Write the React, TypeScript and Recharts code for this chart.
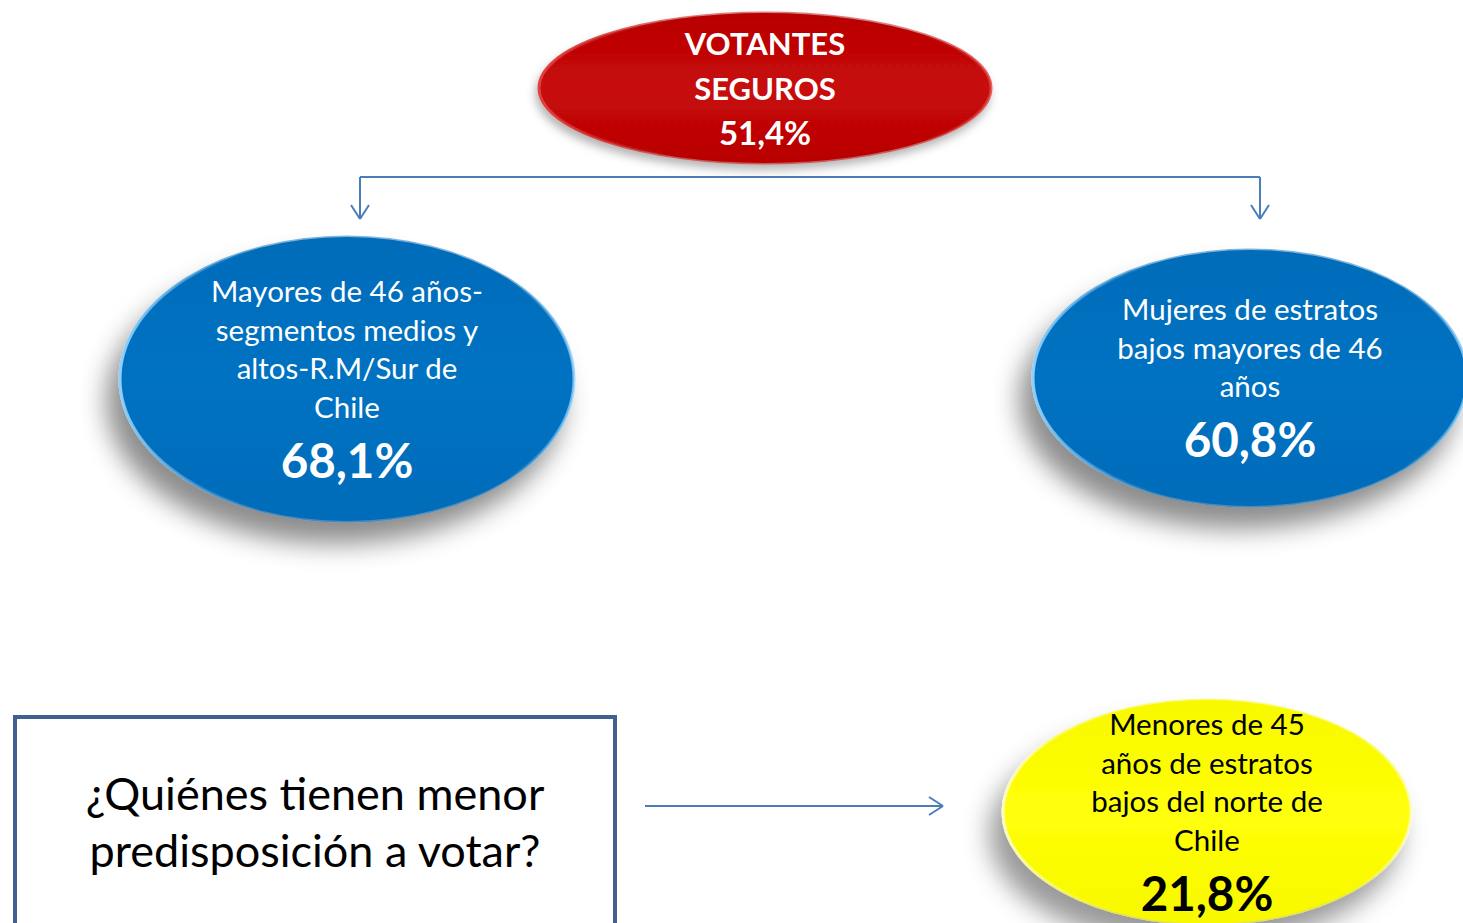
import React from "react";
import { ScatterChart, Scatter, XAxis, YAxis, ReferenceLine, ReferenceArea } from "recharts";

// segments and their share of "votantes seguros"
const nodeLabels = [
  ["VOTANTES", "SEGUROS"],
  ["Mayores de 46 años-", "segmentos medios y", "altos-R.M/Sur de", "Chile"],
  ["Mujeres de estratos", "bajos mayores de 46", "años"],
  ["Menores de 45", "años de estratos", "bajos del norte de", "Chile"],
];
const nodeValues = [51.4, 68.1, 60.8, 21.8];
const nodeKinds = ["red", "blue", "blue", "yellow"];

// diagram layout in chart units (domain == pixels)
const nodeCenters = [
  [765, 88],
  [347, 379],
  [1250, 378],
  [1207, 812],
];
const nodeRadii = [
  [226, 75],
  [227, 142],
  [217, 128],
  [204, 112],
];

const questionLines = ["¿Quiénes tienen menor", "predisposición a votar?"];

const W = 1463;
const H = 923;
const FONT = "Lato, 'Open Sans', sans-serif";
const ARROW = "#4a7ebb";

const fmt = (v: number) => v.toFixed(1).replace(".", ",") + "%";

const nodes = nodeLabels.map((lines, i) => ({
  x: nodeCenters[i][0],
  y: nodeCenters[i][1],
  rx: nodeRadii[i][0],
  ry: nodeRadii[i][1],
  lines,
  value: nodeValues[i],
  kind: nodeKinds[i],
  id: i,
}));

const FILLS: Record<string, { a: string; b: string; rim: string; text: string; shadow: number }> = {
  red: { a: "#c80808", b: "#b80404", rim: "#e04040", text: "#ffffff", shadow: 0.3 },
  blue: { a: "#0472c2", b: "#006cba", rim: "#8fd0fa", text: "#ffffff", shadow: 0.45 },
  yellow: { a: "#ffff08", b: "#f8f800", rim: "#fcfcc0", text: "#000000", shadow: 0.4 },
};

function NodeShape(props: any) {
  const { cx, cy, payload } = props;
  if (cx == null || cy == null) return null;
  const f = FILLS[payload.kind];
  const gid = `g-${payload.id}`;
  const sid = `s-${payload.id}`;
  const rid = `r-${payload.id}`;
  const isRed = payload.kind === "red";
  const texts: React.ReactNode[] = [];
  if (isRed) {
    const all = [...payload.lines, fmt(payload.value)];
    all.forEach((t: string, k: number) =>
      texts.push(
        <text key={k} x={cx} y={cy - 33 + k * 45} textAnchor="middle" fill={f.text}
          fontFamily={FONT} fontWeight={700} fontSize={k === 2 ? 33 : 31}>
          {t}
        </text>
      )
    );
  } else {
    const n = payload.lines.length;
    const start = cy - n * 19.25;
    payload.lines.forEach((t: string, k: number) =>
      texts.push(
        <text key={k} x={cx} y={start + k * 38.5} textAnchor="middle" fill={f.text}
          fontFamily={FONT} fontSize={29.5}>
          {t}
        </text>
      )
    );
    texts.push(
      <text key="v" x={cx} y={start + (n - 1) * 38.5 + 60} textAnchor="middle" fill={f.text}
        fontFamily={FONT} fontWeight={700} fontSize={47.5}>
        {fmt(payload.value)}
      </text>
    );
  }
  return (
    <g>
      <defs>
        <linearGradient id={gid} x1="0" y1="0" x2="0" y2="1">
          <stop offset="0%" stopColor={f.b} />
          <stop offset="50%" stopColor={f.a} />
          <stop offset="100%" stopColor={f.b} />
        </linearGradient>
        <linearGradient id={rid} x1="0" y1="0" x2="1" y2="0">
          <stop offset="0%" stopColor={f.rim} />
          <stop offset="30%" stopColor={f.b} stopOpacity={0.5} />
          <stop offset="85%" stopColor={f.b} stopOpacity={0.5} />
          <stop offset="100%" stopColor={f.rim} stopOpacity={0.8} />
        </linearGradient>
        <filter id={sid} x="-30%" y="-30%" width="160%" height="180%">
          <feDropShadow dx={isRed ? -2 : -12} dy={isRed ? 6 : 22} stdDeviation={isRed ? 5 : 13}
            floodColor="#000" floodOpacity={f.shadow} />
        </filter>
      </defs>
      <ellipse cx={cx} cy={cy} rx={payload.rx} ry={payload.ry} fill={`url(#${gid})`}
        stroke={`url(#${rid})`} strokeWidth={3} filter={`url(#${sid})`} />
      {texts}
    </g>
  );
}

function QuestionShape(props: any) {
  const { cx, cy, payload } = props;
  if (cx == null || cy == null) return null;
  return (
    <g>
      {payload.lines.map((t: string, k: number) => (
        <text key={k} x={cx} y={cy + k * 57} textAnchor="middle" fill="#000"
          fontFamily={FONT} fontSize={45}>
          {t}
        </text>
      ))}
    </g>
  );
}

const question = [{ x: 315, y: 810, lines: questionLines }];

export default function App() {
  return (
    <div style={{ position: "absolute", left: 0, top: 0, width: W, height: H, overflow: "hidden", background: "#fff" }}>
      <ScatterChart width={W} height={H} margin={{ top: 0, right: 0, bottom: 0, left: 0 }}>
        <XAxis type="number" dataKey="x" domain={[0, W]} hide allowDataOverflow />
        <YAxis type="number" dataKey="y" domain={[0, H]} reversed hide allowDataOverflow />

        {/* connectors */}
        <ReferenceLine segment={[{ x: 360, y: 177 }, { x: 1260, y: 177 }]} stroke={ARROW} strokeWidth={2} ifOverflow="visible" />
        <ReferenceLine segment={[{ x: 360, y: 177 }, { x: 360, y: 219 }]} stroke={ARROW} strokeWidth={2} ifOverflow="visible" />
        <ReferenceLine segment={[{ x: 1260, y: 177 }, { x: 1260, y: 219 }]} stroke={ARROW} strokeWidth={2} ifOverflow="visible" />
        <ReferenceLine segment={[{ x: 351, y: 205 }, { x: 360, y: 219 }]} stroke={ARROW} strokeWidth={2} ifOverflow="visible" />
        <ReferenceLine segment={[{ x: 369, y: 205 }, { x: 360, y: 219 }]} stroke={ARROW} strokeWidth={2} ifOverflow="visible" />
        <ReferenceLine segment={[{ x: 1251, y: 205 }, { x: 1260, y: 219 }]} stroke={ARROW} strokeWidth={2} ifOverflow="visible" />
        <ReferenceLine segment={[{ x: 1269, y: 205 }, { x: 1260, y: 219 }]} stroke={ARROW} strokeWidth={2} ifOverflow="visible" />
        <ReferenceLine segment={[{ x: 645, y: 806 }, { x: 943, y: 806 }]} stroke={ARROW} strokeWidth={2} ifOverflow="visible" />
        <ReferenceLine segment={[{ x: 929, y: 797 }, { x: 943, y: 806 }]} stroke={ARROW} strokeWidth={2} ifOverflow="visible" />
        <ReferenceLine segment={[{ x: 929, y: 815 }, { x: 943, y: 806 }]} stroke={ARROW} strokeWidth={2} ifOverflow="visible" />

        <ReferenceArea x1={15} x2={615} y1={717} y2={960} fill="#fff" fillOpacity={1}
          stroke="#40618f" strokeWidth={4} ifOverflow="visible" />

        <Scatter data={nodes} shape={NodeShape} isAnimationActive={false} />
        <Scatter data={question} shape={QuestionShape} isAnimationActive={false} />
      </ScatterChart>
    </div>
  );
}
